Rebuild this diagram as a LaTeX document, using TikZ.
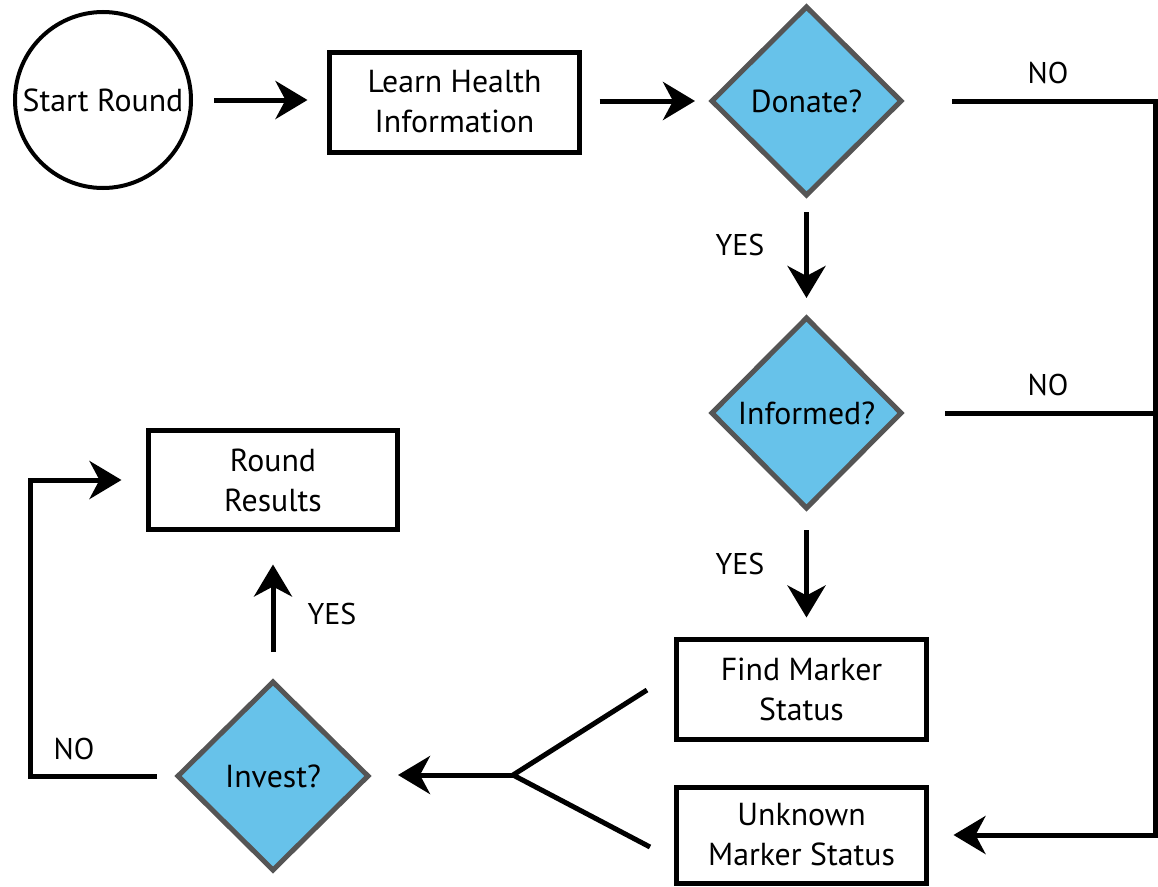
\documentclass[tikz,border=0pt]{standalone}
\usepackage{fontspec}
\setmainfont{PT Sans}
\usetikzlibrary{shapes.geometric,arrows.meta}
\definecolor{dfill}{HTML}{67C2EA}
\definecolor{dborder}{HTML}{555555}
\tikzset{
  txt/.style={font=\fontsize{31.8}{40}\selectfont, align=center},
  procbox/.style={txt, draw, line width=5pt, rectangle, minimum width=250pt, minimum height=100pt, inner sep=0pt, outer sep=0pt},
  decision/.style={txt, draw=dborder, fill=dfill, line width=5pt, diamond, aspect=1, inner sep=0pt, outer sep=0pt},
  startnode/.style={txt, draw, line width=4pt, circle, minimum size=176pt, inner sep=0pt, outer sep=0pt},
  conn/.style={line width=5pt, line join=miter},
  arr/.style={conn, -{Stealth[length=32pt, width=38pt, inset=10pt]}},
  lbl/.style={font=\fontsize{30}{36}\selectfont}
}
\begin{document}
\begin{tikzpicture}[x=1pt, y=-1pt]
\useasboundingbox (0,0) rectangle (1158,886);
% nodes
\node[startnode] (start) at (103,100) {Start Round};
\node[procbox] (learn) at (454.5,102) {Learn Health\\Information};
\node[decision, minimum width=189pt, minimum height=188pt] (donate) at (806.5,101) {Donate?};
\node[decision, minimum width=189pt, minimum height=190pt] (informed) at (806.5,413) {Informed?};
\node[procbox] (find) at (801.5,689.5) {Find Marker\\Status};
\node[procbox, minimum height=96pt] (unknown) at (801.5,835) {Unknown\\Marker Status};
\node[decision, minimum width=190pt, minimum height=188pt] (invest) at (273,776) {Invest?};
\node[procbox, minimum width=249pt, minimum height=99pt] (results) at (273,480) {Round\\Results};
% helper coordinates
\coordinate (r) at (1155,0);
\coordinate (l) at (30,0);
\coordinate (fork) at (513,775);
\coordinate (b1) at (647,690);
\coordinate (b2) at (650,847);
% connectors
\draw[arr, shorten <=23pt, shorten >=22pt] (start.east) -- (start.east -| learn.west);
\draw[arr, shorten <=20pt, shorten >=17pt] (learn.east |- donate.west) -- (donate.west);
\draw[arr, shorten <=17pt, shorten >=20pt] (donate.south) -- (informed.north);
\draw[arr, shorten <=22pt, shorten >=22pt] (informed.south) -- (informed.south |- find.north);
\draw[arr, shorten <=51pt, shorten >=27pt] (donate.east) -- (donate.east -| r) -- (unknown.east -| r) -- (unknown.east);
\draw[conn, shorten <=44pt] (informed.east) -- (informed.east -| r);
\draw[conn] (b1) -- (fork) -- (b2);
\draw[arr, shorten >=30pt] (fork) -- (invest.east |- fork);
\draw[arr, shorten <=21pt, shorten >=27pt] (invest.west) -- (invest.west -| l) -- (results.west -| l) -- (results.west);
\draw[arr, shorten <=30pt, shorten >=35pt] (invest.north) -- (results.south);
% labels
\node[lbl] (no1) at (1048,73) {NO};
\node[lbl] (no2) at (1048,385) {NO};
\node[lbl] (yes1) at (740,245) {YES};
\node[lbl] (yes2) at (740,564) {YES};
\node[lbl] (yes3) at (332,614) {YES};
\node[lbl] (no3) at (74,749) {NO};
\end{tikzpicture}
\end{document}
